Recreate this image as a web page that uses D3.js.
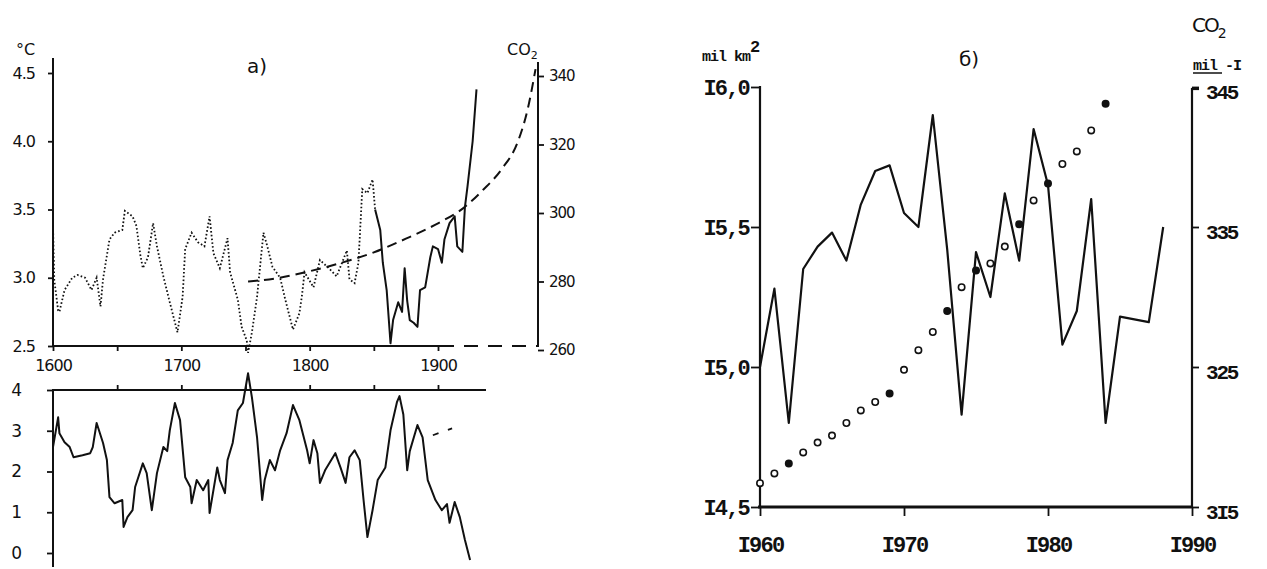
<!DOCTYPE html>
<html>
<head>
<meta charset="utf-8">
<script src="https://cdn.jsdelivr.net/npm/d3@7"></script>
<style>
  body { margin: 0; background: #fff; }
</style>
</head>
<body>
<script>
// ---- panel a), top: temperature (°C) and CO2 curve ----
const tempYears = [1600, 1601, 1602, 1604, 1605, 1609, 1615, 1619, 1625, 1630, 1634, 1637, 1639, 1644, 1648, 1654,
    1656, 1662, 1665, 1668, 1670, 1674, 1678, 1681, 1686, 1691, 1697, 1701, 1703, 1708, 1713, 1718, 1722, 1725,
    1730, 1736, 1738, 1744, 1747, 1751, 1752, 1755, 1759, 1764, 1767, 1771, 1777, 1781, 1787, 1792, 1794, 1796,
    1803, 1808, 1816, 1821, 1829, 1831, 1835, 1838, 1841, 1845, 1849, 1851, 1855, 1857, 1860, 1863, 1865, 1869,
    1872, 1874, 1876, 1878, 1881, 1884, 1886, 1890, 1894, 1896, 1900, 1903, 1905, 1909, 1913, 1915, 1919, 1921,
    1923, 1927, 1930];
const tempValues = [3.38, 2.98, 2.91, 2.76, 2.75, 2.91, 3.0, 3.02, 3.0, 2.91, 3.0, 2.79, 2.99, 3.28, 3.33, 3.35,
    3.49, 3.45, 3.38, 3.17, 3.07, 3.15, 3.4, 3.23, 3.01, 2.82, 2.6, 2.86, 3.21, 3.33, 3.26, 3.23, 3.45, 3.18,
    3.07, 3.29, 3.04, 2.84, 2.64, 2.54, 2.45, 2.6, 2.86, 3.33, 3.23, 3.08, 3.0, 2.84, 2.62, 2.74, 2.87, 3.04,
    2.93, 3.13, 3.06, 3.01, 3.2, 2.99, 2.96, 3.11, 3.65, 3.62, 3.72, 3.5, 3.35, 3.11, 2.91, 2.52, 2.69, 2.82,
    2.75, 3.07, 2.83, 2.69, 2.67, 2.64, 2.91, 2.93, 3.15, 3.23, 3.21, 3.11, 3.28, 3.4, 3.45, 3.23, 3.19, 3.52,
    3.67, 4.0, 4.38];
const SOLID_FROM = 1851;

const co2CurveYears = [1752, 1775, 1800, 1825, 1850, 1875, 1900, 1920, 1935, 1950, 1962, 1970, 1976];
const co2CurveValues = [280, 281, 283, 285.5, 288.5, 292.5, 297, 301.5, 306.7, 313, 320.6, 330.5, 342];

const tempTicks = [2.5, 3.0, 3.5, 4.0, 4.5];
const co2Ticks = [260, 280, 300, 320, 340];
const yearTicks = [1600, 1650, 1700, 1750, 1800, 1850, 1900];

// ---- panel a), bottom ----
const lowerYears = [1600, 1604, 1605, 1609, 1613, 1616, 1623, 1629, 1631, 1634, 1639, 1642, 1644, 1648, 1654,
    1655, 1658, 1662, 1664, 1670, 1673, 1677, 1681, 1686, 1689, 1691, 1695, 1699, 1703, 1707, 1708, 1712, 1717,
    1721, 1722, 1728, 1730, 1734, 1736, 1740, 1744, 1748, 1752, 1755, 1759, 1763, 1765, 1769, 1773, 1777, 1782,
    1787, 1792, 1798, 1800, 1803, 1806, 1808, 1812, 1820, 1824, 1828, 1831, 1835, 1839, 1842, 1845, 1849, 1853,
    1859, 1863, 1868, 1870, 1873, 1876, 1878, 1884, 1888, 1892, 1898, 1903, 1907, 1909, 1913, 1917, 1921, 1925];
const lowerValues = [2.6, 3.33, 2.94, 2.72, 2.6, 2.35, 2.4, 2.45, 2.6, 3.19, 2.7, 2.28, 1.37, 1.22, 1.3,
    0.64, 0.88, 1.05, 1.62, 2.2, 1.96, 1.05, 1.96, 2.6, 2.5, 3.01, 3.68, 3.26, 1.86, 1.62, 1.22, 1.79, 1.54,
    1.79, 0.98, 2.1, 1.79, 1.47, 2.28, 2.7, 3.5, 3.68, 4.41, 3.82, 2.84, 1.3, 1.8, 2.28, 2.03, 2.52, 2.94,
    3.63, 3.26, 2.52, 2.2, 2.77, 2.45, 1.72, 2.03, 2.45, 2.1, 1.72, 2.35, 2.52, 2.28, 1.3, 0.39, 1.05, 1.79,
    2.1, 3.01, 3.7, 3.85, 3.4, 2.03, 2.5, 3.14, 2.84, 1.79, 1.3, 1.05, 1.2, 0.74, 1.25, 0.88, 0.32, -0.17];
const lowerTrendYears = [1896, 1911];
const lowerTrendValues = [2.89, 3.06];
const lowerTicks = [0, 1, 2, 3, 4];

// ---- panel б): sea ice extent (mil km2) and CO2 ----
const iceYears = d3.range(1960, 1989);
const iceValues = [15.0, 15.28, 14.8, 15.35, 15.43, 15.48, 15.38, 15.58, 15.7, 15.72, 15.55, 15.5, 15.9, 15.42,
    14.83, 15.41, 15.25, 15.62, 15.38, 15.85, 15.65, 15.08, 15.2, 15.6, 14.8, 15.18, 15.17, 15.16, 15.5];
const co2Years = d3.range(1960, 1985);
const co2Values = [316.7, 317.4, 318.1, 318.9, 319.6, 320.1, 321.0, 321.9, 322.5, 323.1, 324.8, 326.2, 327.5,
    329.0, 330.7, 331.9, 332.4, 333.6, 335.2, 336.9, 338.1, 339.5, 340.4, 341.9, 343.8];
const co2Filled = [1962, 1969, 1973, 1975, 1978, 1980, 1984];
const iceTicks = [14.5, 15.0, 15.5, 16.0];
const rightCo2Ticks = [315, 325, 335, 345];
const decadeTicks = [1960, 1970, 1980, 1990];

const INK = "#111";
const SANS = "'DejaVu Sans', sans-serif";
const MONO = "'Liberation Mono', monospace";

const svg = d3.select("body").append("svg")
    .attr("width", 1267)
    .attr("height", 569)
    .style("background", "#fff");

// Scales
const xA = d3.scaleLinear().domain([1600, 1900]).range([53, 438]);
const yTemp = d3.scaleLinear().domain([2.5, 4.5]).range([346, 73]);
const yCo2 = d3.scaleLinear().domain([260, 340]).range([350, 76]);
const yLow = d3.scaleLinear().domain([0, 4]).range([553, 390]);

const xB = d3.scaleLinear().domain([1960, 1990]).range([760, 1192]);
const yIce = d3.scaleLinear().domain([14.5, 16]).range([507, 87]);
const yCo2B = d3.scaleLinear().domain([315, 345]).range([507, 87]);

function styleAxis(g, family, size, weight, spacing) {
    g.select(".domain").remove();
    g.selectAll(".tick line").attr("stroke", INK).attr("stroke-width", 1.8);
    g.selectAll(".tick text")
        .attr("fill", INK)
        .style("font-family", family)
        .style("font-size", size + "px")
        .style("font-weight", weight)
        .style("letter-spacing", spacing + "px");
}

function segment(x1, y1, x2, y2, width, dash) {
    const l = svg.append("line")
        .attr("x1", x1).attr("y1", y1).attr("x2", x2).attr("y2", y2)
        .attr("stroke", INK).attr("stroke-width", width);
    if (dash) l.attr("stroke-dasharray", dash);
    return l;
}

// ===== panel a), top =====
svg.append("g").attr("transform", "translate(53,0)")
    .call(d3.axisLeft(yTemp).tickValues(tempTicks).tickFormat(d3.format(".1f")).tickSize(5).tickSizeOuter(0).tickPadding(13))
    .call(g => styleAxis(g, SANS, 16, "normal", -1));
svg.append("g").attr("transform", "translate(0,346)")
    .call(d3.axisBottom(xA).tickValues(yearTicks).tickFormat(d => d % 100 === 0 ? d : "").tickSize(5).tickSizeOuter(0).tickPadding(9))
    .call(g => styleAxis(g, SANS, 16, "normal", -1));
svg.append("g").attr("transform", "translate(538,0)")
    .call(d3.axisRight(yCo2).tickValues(co2Ticks).tickSize(6).tickSizeOuter(0).tickPadding(5))
    .call(g => styleAxis(g, SANS, 15, "normal", -1));

segment(53, 58, 53, 347, 2);
segment(52, 346, 440, 346, 2);
segment(440, 346, 538, 346, 2, "14 10");
segment(538, 62, 538, 347, 2);

const tempLine = d3.line()
    .x((_d, i) => xA(tempYears[i]))
    .y(d => yTemp(d));
const dottedIdx = tempYears.findIndex(y => y >= SOLID_FROM);

svg.append("path")
    .datum(tempValues.slice(0, dottedIdx + 1))
    .attr("d", d3.line().x((_d, i) => xA(tempYears[i])).y(d => yTemp(d)))
    .attr("fill", "none").attr("stroke", INK).attr("stroke-width", 1.8)
    .attr("stroke-dasharray", "1.6 2.2");
svg.append("path")
    .datum(tempValues.slice(dottedIdx))
    .attr("d", d3.line().x((_d, i) => xA(tempYears[i + dottedIdx])).y(d => yTemp(d)))
    .attr("fill", "none").attr("stroke", INK).attr("stroke-width", 2)
    .attr("stroke-linejoin", "round");

svg.append("path")
    .datum(co2CurveValues)
    .attr("d", d3.line().curve(d3.curveMonotoneX).x((_d, i) => xA(co2CurveYears[i])).y(d => yCo2(d)))
    .attr("fill", "none").attr("stroke", INK).attr("stroke-width", 2)
    .attr("stroke-dasharray", "10 6");

// labels
svg.append("text").attr("x", 16).attr("y", 55).attr("fill", INK)
    .style("font-family", SANS).style("font-size", "16px").text("°C");
svg.append("text").attr("x", 247).attr("y", 73).attr("fill", INK)
    .style("font-family", SANS).style("font-size", "20px").text("а)");
const co2A = svg.append("text").attr("x", 507).attr("y", 55).attr("fill", INK)
    .style("font-family", SANS).style("font-size", "16px");
co2A.append("tspan").text("CO");
co2A.append("tspan").attr("dy", 4).style("font-size", "11px").text("2");

// ===== panel a), bottom =====
svg.append("g").attr("transform", "translate(0,390)")
    .call(d3.axisTop(xA).tickValues(yearTicks.slice(1)).tickFormat("").tickSize(5).tickSizeOuter(0))
    .call(g => styleAxis(g, SANS, 16, "normal", 0));
svg.append("g").attr("transform", "translate(53,0)")
    .call(d3.axisLeft(yLow).tickValues(lowerTicks).tickFormat(d3.format("d")).tickSize(6).tickSizeOuter(0).tickPadding(25))
    .call(g => styleAxis(g, SANS, 17, "normal", 0));
segment(52, 390, 486, 390, 2);
segment(53, 390, 53, 567, 2);

svg.append("path")
    .datum(lowerValues)
    .attr("d", d3.line().x((_d, i) => xA(lowerYears[i])).y(d => yLow(d)))
    .attr("fill", "none").attr("stroke", INK).attr("stroke-width", 2)
    .attr("stroke-linejoin", "round");
svg.append("path")
    .datum(lowerTrendValues)
    .attr("d", d3.line().x((_d, i) => xA(lowerTrendYears[i])).y(d => yLow(d)))
    .attr("fill", "none").attr("stroke", INK).attr("stroke-width", 1.8)
    .attr("stroke-dasharray", "6 10");

// ===== panel б) =====
const iFmt = s => String(s).replace(/1/g, "I");
svg.append("g").attr("transform", "translate(760,0)")
    .call(d3.axisLeft(yIce).tickValues(iceTicks).tickFormat(d => iFmt(d3.format(".1f")(d)).replace(".", ",")).tickSize(9).tickSizeOuter(0).tickPadding(2))
    .call(g => styleAxis(g, MONO, 22, "bold", -1.8));
svg.append("g").attr("transform", "translate(0,507)")
    .call(d3.axisBottom(xB).tickValues(decadeTicks).tickFormat(iFmt).tickSize(9).tickSizeOuter(0).tickPadding(20))
    .call(g => styleAxis(g, MONO, 22, "bold", -1.8));
svg.append("g").attr("transform", "translate(1192,0)")
    .call(d3.axisRight(yCo2B).tickValues(rightCo2Ticks).tickFormat(iFmt).tickSize(7).tickSizeOuter(0).tickPadding(7))
    .call(g => styleAxis(g, MONO, 21, "bold", -2.2));
svg.selectAll("g").filter(function () { return this.getAttribute("transform") === "translate(1192,0)"; })
    .selectAll(".tick text").attr("dy", "0.55em");

segment(760, 86, 760, 508, 2.2);
segment(758, 507, 1193, 507, 2.8);
segment(1192, 88, 1192, 508, 2.2);
segment(1191, 89, 1199, 89, 2.2);

svg.append("path")
    .datum(iceValues)
    .attr("d", d3.line().x((_d, i) => xB(iceYears[i])).y(d => yIce(d)))
    .attr("fill", "none").attr("stroke", INK).attr("stroke-width", 2.2)
    .attr("stroke-linejoin", "round");

svg.append("g")
    .selectAll("circle")
    .data(co2Values)
    .join("circle")
    .attr("cx", (_d, i) => xB(co2Years[i]))
    .attr("cy", d => yCo2B(d))
    .attr("r", 3.2)
    .attr("fill", (_d, i) => co2Filled.includes(co2Years[i]) ? INK : "#fff")
    .attr("stroke", INK)
    .attr("stroke-width", 1.6);

// labels
const units = svg.append("text").attr("x", 702).attr("y", 61).attr("fill", INK)
    .style("font-family", MONO).style("font-size", "15px").style("font-weight", "bold")
    .style("letter-spacing", "-1px");
units.append("tspan").text("mil  km");
units.append("tspan").attr("dy", -9).style("font-size", "17px").text("2");
svg.append("text").attr("x", 959).attr("y", 66).attr("fill", INK)
    .style("font-family", SANS).style("font-size", "20px").text("б)");
const co2B = svg.append("text").attr("x", 1192).attr("y", 32).attr("fill", INK)
    .style("font-family", SANS).style("font-size", "20px").style("letter-spacing", "-2px");
co2B.append("tspan").text("CO");
co2B.append("tspan").attr("dy", 6).style("font-size", "14px").text("2");
svg.append("text").attr("x", 1193).attr("y", 70).attr("fill", INK)
    .style("font-family", MONO).style("font-size", "15px").style("font-weight", "bold")
    .style("letter-spacing", "-1px").text("mil -I");
segment(1193, 73, 1222, 73, 1.5);
</script>
</body>
</html>
